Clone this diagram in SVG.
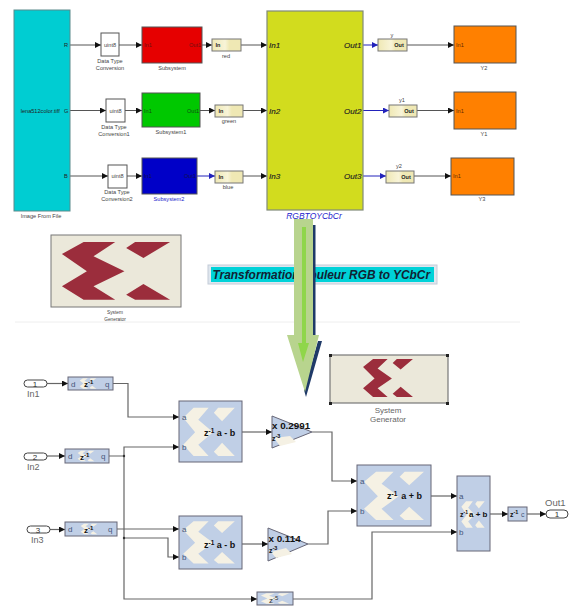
<svg xmlns="http://www.w3.org/2000/svg" xmlns:xlink="http://www.w3.org/1999/xlink" width="573" height="608" viewBox="0 0 573 608">
<style>
text{font-family:"Liberation Sans",Arial,sans-serif;fill:#333}
.t{font-size:5.6px;text-anchor:middle;fill:#444}
.p{font-size:5.6px;fill:#222}
.big{font-size:8px;font-style:italic;fill:#222;stroke:#222;stroke-width:.15}
.gw{font-size:5.5px;font-weight:bold;text-anchor:middle;fill:#222}
.k{fill:none;stroke:#555;stroke-width:1;marker-end:url(#ah)}
.kb{fill:none;stroke:#2222bb;stroke-width:1;marker-end:url(#abl)}
.wa{fill:none;stroke:#666;stroke-width:1.2;marker-end:url(#ah)}
.dt{fill:#fff;stroke:#555;stroke-width:1}
.sub{stroke:#555;stroke-width:1}
.gate{fill:url(#ing);stroke:#777;stroke-width:1}
.bl{fill:#c0cfe6;stroke:#667;stroke-width:1}
.cream{fill:#f5f1e4}
.pt{fill:#fff;stroke:#444;stroke-width:1}
.xl{font-size:9px;fill:#666}
.pl{font-size:8px;fill:#45557a}
.op{font-size:9px;font-weight:bold;fill:#111}
.gain{font-size:9.8px;font-weight:bold;fill:#111}
</style>
<defs>
<linearGradient id="ing"><stop offset="0" stop-color="#efe8b4"/><stop offset=".45" stop-color="#f8f4d8"/><stop offset=".6" stop-color="#efe8b4"/></linearGradient>
<marker id="ah" markerUnits="userSpaceOnUse" markerWidth="7" markerHeight="6" refX="6" refY="3" orient="auto"><path d="M0 0L6 3L0 6Z" fill="#111"/></marker>
<marker id="abl" markerUnits="userSpaceOnUse" markerWidth="7" markerHeight="6" refX="6" refY="3" orient="auto"><path d="M0 0L6 3L0 6Z" fill="#2222bb"/></marker>
<path id="logo" d="M8.4 26.4L25.1 9.7H49.4L32.7 29.6L56.5 50.5L32.7 71.3L49.4 89.8H25.1L8.4 71.3L27.6 50.5ZM57.8 18.1L64.7 9.7H91.6L71.1 31.9ZM57.8 82.9L71.1 68L91.6 89.8H64.7Z"/>
</defs>
<rect width="573" height="608" fill="#fff"/>
<line x1="15" y1="322" x2="520" y2="322" stroke="#eee" stroke-width="1"/>

<g id="connectors">
<path class="k" d="M70 45H101"/><path class="k" d="M119 45H142"/><path class="k" d="M202 45H212"/><path class="k" d="M241 45H267"/><path class="kb" d="M363 45H378"/><path class="k" d="M407 45H454"/>
<path class="k" d="M70 110.5H106"/><path class="k" d="M125 110.5H142"/><path class="k" d="M200 110.5H215"/><path class="k" d="M243 110.5H267"/><path class="kb" d="M363 110.5H389"/><path class="k" d="M417 110.5H454"/>
<path class="k" d="M70 176H108"/><path class="k" d="M127 176H142"/><path class="kb" d="M197 176H215"/><path class="k" d="M243 176H267"/><path class="kb" d="M363 176H386"/><path class="k" d="M414 176H451"/>
<path class="wa" d="M47 383.5H68"/><path class="wa" d="M47 456H65"/><path class="wa" d="M50 529.5H65"/>
<path class="wa" d="M113 383.5H128V417H179"/>
<path class="wa" d="M109 456H124V447H179"/>
<path class="wa" d="M124 456V599H257"/>
<path class="wa" d="M117 529H179"/>
<path class="wa" d="M124 538H168V557H179"/>
<circle cx="124" cy="456" r="1.2" fill="#333"/><circle cx="124" cy="538" r="1.2" fill="#333"/>
<path class="wa" d="M242 432H272"/><path class="wa" d="M242 544H268"/>
<path class="wa" d="M312 432H332V481H357"/>
<path class="wa" d="M308 544H328V511H357"/>
<path class="wa" d="M293 599H372V532H457"/>
<path class="wa" d="M431 496H457"/>
<path class="wa" d="M490 514H508"/>
<path class="wa" d="M527 514H546"/>
</g>

<g id="image-from-file"><rect x="14" y="10" width="56" height="201" fill="#00cdd2" stroke="#5a8a8c"/><text class="p" x="20.700" y="112.500">lena512color.tiff</text><text class="p" x="64" y="47">R</text><text class="p" x="64" y="112.500">G</text><text class="p" x="64" y="178">B</text><text class="t" x="41" y="218">Image From File</text></g>

<g id="dtc"><rect class="dt" x="101" y="33" width="18" height="23"/><text class="t" x="110" y="47">uint8</text><text class="t" x="110" y="63">Data Type</text><text class="t" x="110" y="70">Conversion</text></g>
<g id="dtc1"><rect class="dt" x="106" y="99" width="19" height="23"/><text class="t" x="115.500" y="112.500">uint8</text><text class="t" x="114" y="129">Data Type</text><text class="t" x="114" y="136">Conversion1</text></g>
<g id="dtc2"><rect class="dt" x="108" y="165" width="19" height="23"/><text class="t" x="117.500" y="178">uint8</text><text class="t" x="117" y="194">Data Type</text><text class="t" x="117" y="201">Conversion2</text></g>

<g id="subsystem"><rect class="sub" x="142" y="27" width="60" height="36" fill="#e60000"/><text class="p" x="144" y="47" style="fill:#701010">In1</text><text class="p" x="189" y="47" style="fill:#701010">Out1</text><text class="t" x="172" y="70">Subsystem</text></g>
<g id="subsystem1"><rect class="sub" x="142" y="93" width="58" height="34" fill="#00c800"/><text class="p" x="144" y="112.500" style="fill:#105010">In1</text><text class="p" x="187" y="112.500" style="fill:#105010">Out1</text><text class="t" x="171" y="134">Subsystem1</text></g>
<g id="subsystem2"><rect class="sub" x="142" y="158" width="55" height="36" fill="#0000c8"/><text class="p" x="144" y="178" style="fill:#101050">In1</text><text class="p" x="184" y="178" style="fill:#101050">Out1</text><text class="t" x="169" y="201" style="fill:#2222cc">Subsystem2</text></g>

<g id="gw-red"><rect class="gate" x="212" y="39" width="29" height="12"/><text class="gw" x="218" y="47">In</text><text class="t" x="226" y="58">red</text></g>
<g id="gw-green"><rect class="gate" x="215" y="105" width="28" height="12"/><text class="gw" x="221" y="112.500">In</text><text class="t" x="229" y="123">green</text></g>
<g id="gw-blue"><rect class="gate" x="215" y="171" width="28" height="12"/><text class="gw" x="221" y="178.500">In</text><text class="t" x="228" y="189">blue</text></g>

<g id="rgbtoycbcr"><rect x="267" y="11" width="96" height="199" fill="#d2dc1e" stroke="#808a78" stroke-width="1.200"/>
<text class="big" x="269" y="48">In1</text><text class="big" x="269" y="113.500">In2</text><text class="big" x="269" y="179">In3</text>
<text class="big" x="344" y="48">Out1</text><text class="big" x="344" y="113.500">Out2</text><text class="big" x="344" y="179">Out3</text>
<text x="314" y="219" font-size="8.500" font-style="italic" text-anchor="middle" style="fill:#2222cc">RGBTOYCbCr</text></g>

<g id="gw-y"><rect class="gate" x="378" y="39" width="29" height="12"/><text class="gw" x="399" y="47">Out</text><text class="t" x="392" y="37">y</text></g>
<g id="gw-y1"><rect class="gate" x="389" y="105" width="28" height="12"/><text class="gw" x="409" y="112.500">Out</text><text class="t" x="402" y="102">y1</text></g>
<g id="gw-y2"><rect class="gate" x="386" y="171" width="28" height="12"/><text class="gw" x="406" y="178.500">Out</text><text class="t" x="399" y="168">y2</text></g>

<g id="y2"><rect class="sub" x="454" y="26" width="62" height="37" fill="#ff8000"/><text class="p" x="456" y="47" style="fill:#642800">In1</text><text class="t" x="484" y="70">Y2</text></g>
<g id="y1"><rect class="sub" x="454" y="92" width="62" height="37" fill="#ff8000"/><text class="p" x="456" y="112.500" style="fill:#642800">In1</text><text class="t" x="484" y="136">Y1</text></g>
<g id="y3"><rect class="sub" x="451" y="158" width="63" height="37" fill="#ff8000"/><text class="p" x="453" y="178" style="fill:#642800">In1</text><text class="t" x="482" y="201">Y3</text></g>

<g id="sysgen1"><rect x="51" y="235" width="130" height="72" fill="#ebe8da" stroke="#777" stroke-width="1"/><use xlink:href="#logo" fill="#9b2d3c" transform="translate(51 235) scale(1.3 .72)"/><text class="t" x="115" y="314" style="font-size:4.800px">System</text><text class="t" x="115" y="320.500" style="font-size:4.800px">Generator</text></g>

<g id="banner"><rect x="208" y="265" width="229" height="19" fill="#dfe6ee" stroke="#c4ccd8"/><rect x="211" y="267" width="223" height="15" fill="#00d2d8"/><text x="212.500" y="279" font-size="11.900" font-weight="bold" font-style="italic" style="fill:#123">Transformation couleur RGB to YCbCr</text></g>

<g id="big-arrow">
<path d="M313 225H315.500V335H313ZM318 341H322L306 397L304 390Z" fill="#1f3a68"/>
<path d="M294 219H313V335H319L305 392L287 335H294Z" fill="#b8d48e"/>
<path d="M302 227H306V343H309L303 362L298 343H302Z" fill="#8fd64a"/>
</g>

<g id="sysgen2"><rect x="330" y="355" width="118" height="48" fill="#ebe8da" stroke="#777" stroke-width="1.200"/><g fill="#222"><rect x="329" y="354" width="3" height="3"/><rect x="446" y="354" width="3" height="3"/><rect x="329" y="402" width="3" height="3"/><rect x="446" y="402" width="3" height="3"/></g><use xlink:href="#logo" fill="#9b2d3c" transform="translate(358 354.400) scale(.6 .475)"/><text x="388" y="413" font-size="8" text-anchor="middle" style="fill:#666">System</text><text x="388" y="422" font-size="8" text-anchor="middle" style="fill:#666">Generator</text></g>

<g id="in1"><rect class="pt" x="24" y="380" width="23" height="7" rx="3.500"/><text x="35" y="386.500" font-size="8" text-anchor="middle">1</text><text class="xl" x="27" y="396.500">In1</text></g>
<g id="in2"><rect class="pt" x="24" y="453" width="23" height="7" rx="3.500"/><text x="35" y="459.500" font-size="8" text-anchor="middle">2</text><text class="xl" x="27" y="470">In2</text></g>
<g id="in3"><rect class="pt" x="27" y="526" width="23" height="7" rx="3.500"/><text x="38" y="532.500" font-size="8" text-anchor="middle">3</text><text class="xl" x="31" y="543">In3</text></g>

<g id="delay1"><rect class="bl" x="68" y="377" width="45" height="13"/><use xlink:href="#logo" class="cream" transform="translate(78 377) scale(.2 .13)"/><text class="pl" x="71" y="387">d</text><text class="pl" x="105" y="387">q</text><text class="op" x="84" y="387" style="font-size:8px">z<tspan dy="-3" font-size="6">-1</tspan></text></g>
<g id="delay2"><rect class="bl" x="65" y="449" width="44" height="14"/><use xlink:href="#logo" class="cream" transform="translate(76 449.500) scale(.2 .13)"/><text class="pl" x="68" y="459">d</text><text class="pl" x="101" y="459">q</text><text class="op" x="80" y="460" style="font-size:8px">z<tspan dy="-3" font-size="6">-1</tspan></text></g>
<g id="delay3"><rect class="bl" x="65" y="522" width="52" height="14"/><use xlink:href="#logo" class="cream" transform="translate(79 522.500) scale(.2 .13)"/><text class="pl" x="68" y="532">d</text><text class="pl" x="108" y="532">q</text><text class="op" x="84" y="533" style="font-size:8px">z<tspan dy="-3" font-size="6">-1</tspan></text></g>

<g id="sub1"><rect class="bl" x="179" y="401" width="63" height="61"/><use xlink:href="#logo" class="cream" transform="translate(178 402) scale(.62 .6)"/><text class="pl" x="182" y="420">a</text><text class="pl" x="182" y="450">b</text><text class="op" x="204" y="436">z<tspan dy="-3" font-size="6.500">-1</tspan><tspan dy="3"> a - b</tspan></text></g>
<g id="sub2"><rect class="bl" x="179" y="516" width="63" height="53"/><use xlink:href="#logo" class="cream" transform="translate(178 516) scale(.62 .53)"/><text class="pl" x="182" y="532">a</text><text class="pl" x="182" y="560">b</text><text class="op" x="204" y="548">z<tspan dy="-3" font-size="6.500">-1</tspan><tspan dy="3"> a - b</tspan></text></g>

<g id="cmult1"><path class="bl" d="M272 416V448L312 432Z"/><path class="cream" d="M274 438L290 436L296 442L280 446Z"/><text class="gain" x="272" y="429">x 0.2991</text><text class="op" x="272" y="441" style="font-size:7px">z<tspan dy="-3" font-size="5.500">-3</tspan></text></g>
<g id="cmult2"><path class="bl" d="M268 528V561L308 544Z"/><path class="cream" d="M271 552L286 548L292 554L276 558Z"/><text class="gain" x="268.500" y="542">x 0.114</text><text class="op" x="269" y="553" style="font-size:7px">z<tspan dy="-3" font-size="5.500">-3</tspan></text></g>

<g id="delay5"><rect class="bl" x="257" y="592" width="36" height="13"/><use xlink:href="#logo" class="cream" transform="translate(258 592) scale(.34 .13)"/><text x="269" y="603" font-size="8" style="fill:#333">z<tspan dy="-3" font-size="6">-5</tspan></text></g>

<g id="add1"><rect class="bl" x="357" y="465" width="74" height="61"/><use xlink:href="#logo" class="cream" transform="translate(358 466) scale(.72 .6)"/><text class="pl" x="360" y="484">a</text><text class="pl" x="360" y="514">b</text><text class="op" x="387" y="499">z<tspan dy="-3" font-size="6.500">-1</tspan><tspan dy="3" dx="4">a + b</tspan></text></g>
<g id="add2"><rect class="bl" x="457" y="476" width="33" height="75"/><use xlink:href="#logo" class="cream" transform="translate(459 498) scale(.28 .33)"/><text class="pl" x="459" y="499">a</text><text class="pl" x="459" y="535">b</text><text class="op" x="460" y="517" style="font-size:7px">z<tspan dy="-3" font-size="5">-1</tspan></text><text class="op" x="469" y="517" style="font-size:8px">a + b</text></g>
<g id="delay-out"><rect class="bl" x="508" y="507" width="19" height="14"/><text class="op" x="510" y="517" style="font-size:7px">z<tspan dy="-3" font-size="5.500">-1</tspan></text><text class="pl" x="521" y="517" style="font-size:7px">c</text></g>
<g id="out1"><rect class="pt" x="546" y="510" width="22" height="8" rx="4"/><text x="557" y="517" font-size="8" text-anchor="middle">1</text><text class="xl" x="545" y="506" style="font-size:9.500px">Out1</text></g>
</svg>
